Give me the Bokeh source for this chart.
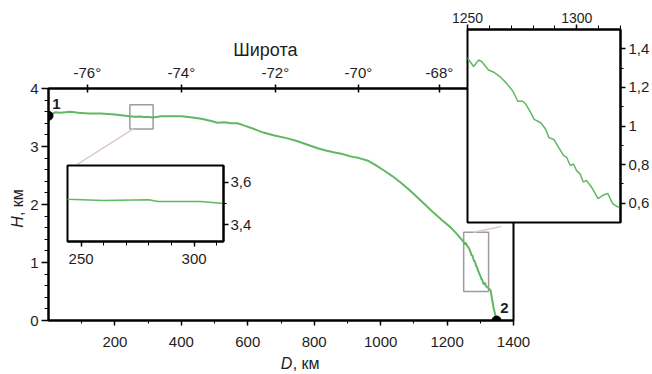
import math
from bokeh.plotting import figure
from bokeh.models import Range1d, LinearAxis, FixedTicker, Label, ColumnDataSource
from bokeh.embed import file_html
from bokeh.resources import INLINE

# ---------------- data ----------------
dist_km = [0, 10, 20, 35, 50, 66, 90, 120, 157, 200, 244, 260, 280, 284, 303, 313,
           340, 370, 400, 434, 460, 490, 509, 530, 550, 569, 590, 615, 647, 680,
           720, 750, 780, 810, 835, 858, 885, 909, 935, 960, 985, 1009, 1035, 1060,
           1085, 1111, 1135, 1159, 1185, 1210, 1230,
           1250.1, 1252.8, 1255.1, 1256.6, 1259.6, 1261.8, 1264.8, 1267.8, 1270.8,
           1273.0, 1275.3, 1276.8, 1279.0, 1280.5, 1283.5, 1285.8, 1287.2, 1289.5,
           1291.7, 1294.0, 1295.4, 1297.0, 1298.5, 1299.9, 1301.5, 1303.0, 1304.4,
           1306.7, 1309.7, 1311.9, 1314.2, 1316.4, 1318.6, 1320.0, 1331, 1340, 1349]
height_km = [3.53, 3.56, 3.59, 3.58, 3.59, 3.60, 3.58, 3.57, 3.57, 3.55, 3.52, 3.514, 3.518, 3.51, 3.51, 3.50,
             3.52, 3.52, 3.52, 3.50, 3.48, 3.44, 3.41, 3.42, 3.40, 3.40, 3.36, 3.31, 3.24, 3.19,
             3.14, 3.09, 3.03, 2.97, 2.93, 2.90, 2.87, 2.83, 2.80, 2.76, 2.68, 2.59, 2.49, 2.38,
             2.26, 2.12, 1.99, 1.86, 1.73, 1.61, 1.49,
             1.35, 1.308, 1.342, 1.333, 1.29, 1.28, 1.256, 1.222, 1.18,
             1.128, 1.128, 1.111, 1.068, 1.034, 1.017, 0.983, 0.94, 0.93,
             0.889, 0.846, 0.837, 0.795, 0.803, 0.769, 0.752, 0.709, 0.718,
             0.684, 0.624, 0.641, 0.65, 0.598, 0.581, 0.58, 0.52, 0.22, 0.0]
assert len(dist_km) == len(height_km)

end_points_D = [0, 1349]
end_points_H = [3.53, 0.0]
end_labels = ["1", "2"]
end_label_D = [24, 1373]
end_label_H = [3.74, 0.22]

d_ticks = [200, 400, 600, 800, 1000, 1200, 1400]
d_minor = [100, 300, 500, 700, 900, 1100, 1300]
h_ticks = [0, 1, 2, 3, 4]
h_minor = [0.2, 0.4, 0.6, 0.8, 1.2, 1.4, 1.6, 1.8, 2.2, 2.4, 2.6, 2.8, 3.2, 3.4, 3.6, 3.8]

lat_tick_km = [117, 400, 683, 933, 1177]
lat_labels = ["-76°", "-74°", "-72°", "-70°", "-68°"]

# zoom windows drawn in main plot (left, right, bottom, top)
box_left = [245, 1250]
box_right = [315, 1325]
box_bottom = [3.30, 0.50]
box_top = [3.72, 1.52]
# connector lines (main-plot data units)
conn_x0 = [256, 1280]
conn_y0 = [3.31, 1.52]
conn_x1 = [87, 1362]
conn_y1 = [2.69, 1.62]

ins1_x = (244, 313)
ins1_y = (3.32, 3.68)
ins1_xticks = [250, 300]
ins1_xminor = [260, 270, 280, 290, 310]
ins1_yticks = [3.4, 3.6]
ins1_ylabels = ["3,4", "3,6"]
ins1_yminor = [3.5]

ins2_x = (1250, 1320)
ins2_y = (0.5, 1.5)
ins2_xticks = [1250, 1300]
ins2_xminor = [1260, 1270, 1280, 1290, 1310, 1320]
ins2_yticks = [0.6, 0.8, 1.0, 1.2, 1.4]
ins2_ylabels = ["0,6", "0,8", "1", "1,2", "1,4"]
ins2_yminor = [0.7, 0.9, 1.1, 1.3]

# ---------------- geometry / style ----------------
W, H = 652, 374
FL, FR, FT, FB = 48, 513, 88, 320          # main frame edges (px)
XR, YR = (0, 1400), (0, 4)

FONT = "Liberation Sans"
INK = "#1e1e1e"
GREEN = "#62b762"
BOX = "#9c9c9c"
CONN = "#dccaca"

src = ColumnDataSource(data=dict(D=dist_km, H=height_km))


def style_axis(ax, major_out=7, major_in=0, minor_out=4, size="15px", standoff=3):
    ax.axis_line_color = "black"
    ax.axis_line_width = 2
    ax.major_tick_line_color = "black"
    ax.major_tick_line_width = 1.5
    ax.minor_tick_line_color = "black"
    ax.minor_tick_line_width = 1
    ax.major_tick_out = major_out
    ax.major_tick_in = major_in
    ax.minor_tick_out = minor_out
    ax.minor_tick_in = 0
    ax.major_label_text_font = FONT
    ax.major_label_text_font_size = size
    ax.major_label_text_color = INK
    ax.major_label_standoff = standoff


# ---------------- main plot ----------------
main = figure(width=W, height=H, x_range=Range1d(*XR), y_range=Range1d(*YR),
              output_backend="svg", toolbar_location=None,
              min_border_left=FL, min_border_right=W - FR,
              min_border_top=FT, min_border_bottom=H - FB)
main.xgrid.visible = False
main.ygrid.visible = False
main.outline_line_color = "black"
main.outline_line_width = 2
main.outline_line_alpha = 1
main.background_fill_color = "white"
main.border_fill_color = "white"

xa = main.xaxis[0]
xa.ticker = FixedTicker(ticks=d_ticks, minor_ticks=d_minor)
style_axis(xa, major_out=5, minor_out=3, standoff=11)
ya = main.yaxis[0]
ya.ticker = FixedTicker(ticks=h_ticks, minor_ticks=h_minor)
style_axis(ya, major_out=7, minor_out=4, standoff=3)

top = LinearAxis(ticker=FixedTicker(ticks=lat_tick_km),
                 major_label_overrides={k: v for k, v in zip(lat_tick_km, lat_labels)})
style_axis(top, major_out=4, major_in=4, minor_out=0, standoff=4)
main.add_layout(top, "above")

main.quad(left=box_left, right=box_right, bottom=box_bottom, top=box_top,
          fill_color=None, line_color=BOX, line_width=1.5)
main.segment(x0=conn_x0, y0=conn_y0, x1=conn_x1, y1=conn_y1, line_color=CONN, line_width=1.5)
main.line("D", "H", source=src, line_color=GREEN, line_width=2)
main.scatter(end_points_D, end_points_H, size=9, color="black")
for t, x, y in zip(end_labels, end_label_D, end_label_H):
    main.add_layout(Label(x=x, y=y, text=t, text_font=FONT, text_font_size="15px",
                          text_font_style="bold", text_color=INK,
                          text_align="center", text_baseline="middle"))

# ---------------- transparent overlay for axis titles (same data mapping) ----------------
kx = (FR - FL) / (XR[1] - XR[0])
ky = (FB - FT) / (YR[1] - YR[0])
ov = figure(width=W, height=H,
            x_range=Range1d(XR[0] - FL / kx, XR[0] + (W - FL) / kx),
            y_range=Range1d(YR[0] - (H - FB) / ky, YR[0] + FB / ky),
            output_backend="svg", toolbar_location=None,
            x_axis_location=None, y_axis_location=None,
            min_border=0, min_border_left=0, min_border_right=0,
            min_border_top=0, min_border_bottom=0)
ov.xgrid.visible = False
ov.ygrid.visible = False
ov.outline_line_color = None
ov.background_fill_alpha = 0
ov.border_fill_alpha = 0
ov.styles = {"position": "absolute", "left": "0px", "top": "0px",
             "width": f"{W}px", "height": f"{H}px", "pointer-events": "none"}

ov.add_layout(Label(x=653, y=4.672, text="Широта", text_font=FONT, text_font_size="18px",
                    text_color=INK, text_align="center", text_baseline="middle"))
ov.add_layout(Label(x=699, y=-0.74, text="D", text_font=FONT, text_font_size="16px",
                    text_font_style="italic", text_color=INK, text_align="left",
                    text_baseline="middle"))
ov.add_layout(Label(x=735, y=-0.74, text=", км", text_font=FONT, text_font_size="16px",
                    text_color=INK, text_align="left", text_baseline="middle"))
ov.add_layout(Label(x=-93, y=1.60, text="H", text_font=FONT, text_font_size="16px",
                    text_font_style="italic", text_color=INK, text_align="left",
                    text_baseline="middle", angle=math.pi / 2))
ov.add_layout(Label(x=-93, y=1.80, text=", км", text_font=FONT, text_font_size="16px",
                    text_color=INK, text_align="left", text_baseline="middle",
                    angle=math.pi / 2))


# ---------------- insets ----------------
def inset(xr, yr, w, h, borders, left, topp, xloc, yloc):
    f = figure(width=w, height=h, x_range=Range1d(*xr), y_range=Range1d(*yr),
               output_backend="svg", toolbar_location=None,
               x_axis_location=xloc, y_axis_location=yloc,
               min_border_left=borders[0], min_border_top=borders[1],
               min_border_right=borders[2], min_border_bottom=borders[3])
    f.xgrid.visible = False
    f.ygrid.visible = False
    f.outline_line_color = "black"
    f.outline_line_width = 2
    f.outline_line_alpha = 1
    f.background_fill_color = "white"
    f.border_fill_alpha = 0
    f.styles = {"position": "absolute", "left": f"{left}px", "top": f"{topp}px",
                "width": f"{w}px", "height": f"{h}px"}
    f.line("D", "H", source=src, line_color=GREEN, line_width=1.5)
    return f


ins1 = inset(ins1_x, ins1_y, 196, 106, (2, 2, 38, 28), 65, 163, "below", "right")
ins1.xaxis[0].ticker = FixedTicker(ticks=ins1_xticks, minor_ticks=ins1_xminor)
style_axis(ins1.xaxis[0], major_out=5, minor_out=4, standoff=7)
ins1.yaxis[0].ticker = FixedTicker(ticks=ins1_yticks, minor_ticks=ins1_yminor)
ins1.yaxis[0].major_label_overrides = {k: v for k, v in zip(ins1_yticks, ins1_ylabels)}
style_axis(ins1.yaxis[0], major_out=5, minor_out=3, standoff=2)

ins2 = inset(ins2_x, ins2_y, 205, 224, (20, 29, 29, 2), 447, 0, "above", "right")
ins2.xaxis[0].ticker = FixedTicker(ticks=ins2_xticks, minor_ticks=ins2_xminor)
style_axis(ins2.xaxis[0], major_out=5, minor_out=4, standoff=2, size="14px")
ins2.yaxis[0].ticker = FixedTicker(ticks=ins2_yticks, minor_ticks=ins2_yminor)
ins2.yaxis[0].major_label_overrides = {k: v for k, v in zip(ins2_yticks, ins2_ylabels)}
style_axis(ins2.yaxis[0], major_out=5, minor_out=3, standoff=3)

p = [main, ov, ins1, ins2]
open("out.html", "w").write(file_html(p, INLINE))
